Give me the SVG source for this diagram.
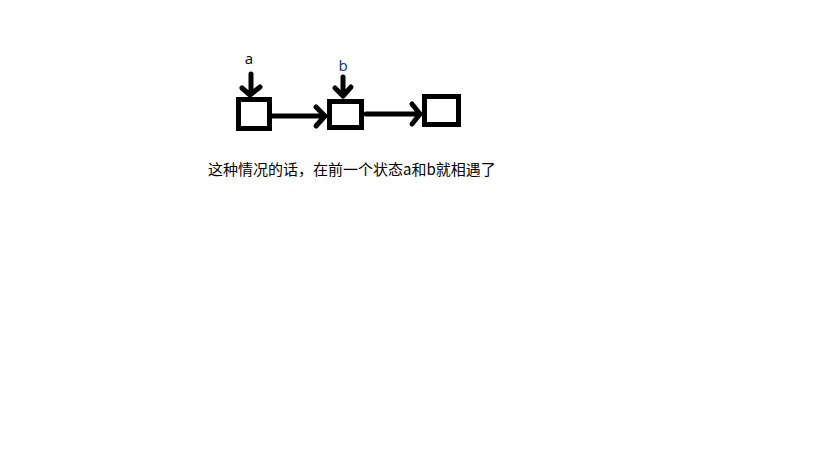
<svg xmlns="http://www.w3.org/2000/svg" width="819" height="460" viewBox="0 0 819 460">
<style>
.box{fill:#fff;stroke:#000;stroke-width:5}
.ln{fill:none;stroke:#000;stroke-width:5;stroke-linecap:round;stroke-linejoin:round}
.lbl{font-family:"Noto Sans","Liberation Sans",sans-serif;font-size:15px}
.cap{font-family:"Noto Sans CJK SC","Liberation Sans",sans-serif;font-size:15px;fill:#000}
</style>
<rect width="819" height="460" fill="#fff"/>
<g id="connectors">
<path class="ln" d="M267,116 L325,116 M316,107 L325,116 L316,126"/>
<path class="ln" d="M366,114 L420,114 M412,104 L420,114 L412,124"/>
<path class="ln" d="M251,74 L251,94 M242,88 L250,95 L260,87"/>
<path class="ln" d="M343,77 L343,96 M335,88 L343,96 L351,87"/>
</g>
<g id="node1"><rect class="box" x="238.5" y="99.5" width="31" height="29"/></g>
<g id="node2"><rect class="box" x="329.5" y="101.5" width="32" height="26"/></g>
<g id="node3"><rect class="box" x="424.5" y="96.5" width="34" height="28"/></g>
<g id="label-a"><text class="lbl" x="249" y="64" text-anchor="middle" fill="#111">a</text></g>
<g id="label-b"><text class="lbl" x="343" y="71" text-anchor="middle" fill="#1a3a86">b</text></g>
<g id="caption"><text class="cap" x="208" y="175">这种情况的话，在前一个状态a和b就相遇了</text></g>
</svg>
